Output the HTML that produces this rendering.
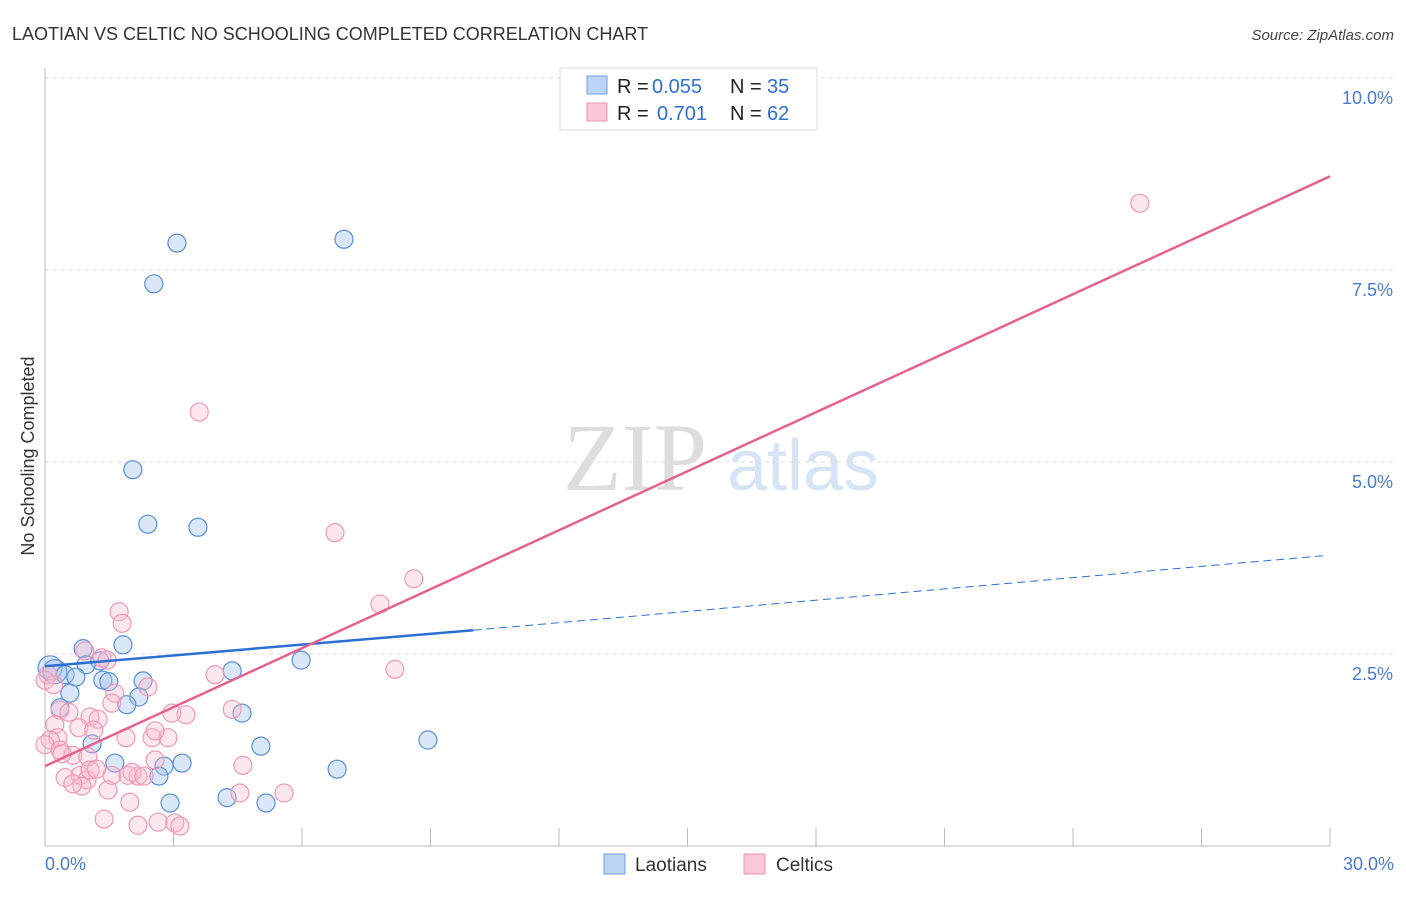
<!DOCTYPE html><html><head><meta charset="utf-8"><style>
body{margin:0;background:#fff;font-family:"Liberation Sans",sans-serif}
</style></head><body>
<svg width="1406" height="892" xmlns="http://www.w3.org/2000/svg" font-family="Liberation Sans, sans-serif">
<text x="12" y="40" font-size="18" fill="#333">LAOTIAN VS CELTIC NO SCHOOLING COMPLETED CORRELATION CHART</text>
<text x="1394" y="40" font-size="15" fill="#444" text-anchor="end" font-style="italic">Source: ZipAtlas.com</text>
<text x="635" y="490" font-size="96" fill="#ddd" font-family="Liberation Serif, serif" text-anchor="middle">ZIP</text>
<text x="803" y="490" font-size="72" fill="#d6e4f5" text-anchor="middle">atlas</text>
<g id="grid"></g>
<line x1="45" y1="68" x2="45" y2="846" stroke="#bbb"/>
<line x1="45" y1="846" x2="1330" y2="846" stroke="#bbb"/>
<g id="ticks"></g>
<g id="pts"></g>
<g id="lines"></g>
<text transform="translate(34,456) rotate(-90)" font-size="18" fill="#333" text-anchor="middle">No Schooling Completed</text>
<text x="45" y="870" font-size="18" fill="#4a7bd0">0.0%</text>
<text x="1394" y="870" font-size="18" fill="#4a7bd0" text-anchor="end">30.0%</text>
<g>
<rect x="560" y="68" width="257" height="62" fill="#fff" stroke="#ddd"/>
<rect x="587" y="76" width="20" height="18" fill="#bcd4f5" stroke="#6f9ee0"/>
<rect x="587" y="103" width="20" height="18" fill="#fbc8d6" stroke="#ee8fab"/>
<text x="617" y="93" font-size="20" fill="#222">R =</text>
<text x="652" y="93" font-size="20" fill="#2f6fd6">0.055</text>
<text x="730" y="93" font-size="20" fill="#222">N =</text>
<text x="767" y="93" font-size="20" fill="#2f6fd6">35</text>
<text x="617" y="120" font-size="20" fill="#222">R =</text>
<text x="657" y="120" font-size="20" fill="#2f6fd6">0.701</text>
<text x="730" y="120" font-size="20" fill="#222">N =</text>
<text x="767" y="120" font-size="20" fill="#2f6fd6">62</text>
</g>
<g>
<rect x="604" y="854" width="21" height="20" fill="#bcd4f5" stroke="#6f9ee0"/>
<text x="635" y="871" font-size="19" fill="#333">Laotians</text>
<rect x="744" y="854" width="21" height="20" fill="#fbc8d6" stroke="#ee8fab"/>
<text x="776" y="871" font-size="19" fill="#333">Celtics</text>
</g>
</svg>
<script>
const yTicks=[2.5,5.0,7.5,10.0];
const xTicks=[3,6,9,12,15,18,21,24,27,30];
const laoX=[0.12,0.23,3.08,6.98,2.54,2.05,2.40,3.57,0.89,1.82,1.28,0.96,0.47,0.72,1.35,1.49,2.29,0.58,2.19,1.91,0.35,4.37,5.98,4.60,1.10,5.04,8.94,1.63,3.20,2.78,2.66,6.82,2.92,4.25,5.16];
const laoY=[2.32,2.27,7.85,7.90,7.32,4.90,4.19,4.15,2.57,2.62,2.41,2.36,2.23,2.20,2.16,2.14,2.15,1.99,1.94,1.84,1.80,2.28,2.42,1.73,1.33,1.30,1.38,1.08,1.08,1.04,0.91,1.00,0.56,0.63,0.56];
const celX=[25.56,3.60,6.77,8.61,7.82,1.73,1.80,8.17,3.97,0.93,1.33,1.45,0.07,0.00,0.35,0.56,2.40,1.63,4.37,3.29,2.96,1.05,1.24,0.23,0.79,1.14,0.30,0.12,0.00,1.89,2.50,2.87,2.57,0.35,0.65,1.00,2.57,0.82,0.47,1.56,1.94,2.17,2.03,0.98,0.86,1.47,0.65,2.31,4.62,5.58,4.55,1.98,1.38,2.17,2.64,3.03,3.15,1.05,1.56,0.20,0.40,1.20];
const celY=[8.37,5.65,4.08,3.48,3.15,3.05,2.90,2.30,2.23,2.54,2.45,2.42,2.23,2.16,1.77,1.74,2.07,1.99,1.78,1.71,1.73,1.68,1.65,1.58,1.54,1.51,1.41,1.38,1.32,1.41,1.41,1.41,1.50,1.25,1.18,1.16,1.12,0.92,0.89,0.92,0.92,0.91,0.96,0.86,0.78,0.73,0.81,0.91,1.05,0.69,0.69,0.57,0.35,0.27,0.31,0.30,0.26,0.99,1.86,2.10,1.20,1.00];
const laoFit=[2.34,2.81,3.78]; // at x=0,10,29.85
const celFit=[1.04,8.72]; // at x=0,30
const X=v=>45+v/30*1285, Y=v=>846-v/10*768;
const NS='http://www.w3.org/2000/svg';
function mk(p,t,a){const e=document.createElementNS(NS,t);for(const k in a)e.setAttribute(k,a[k]);document.getElementById(p).appendChild(e);return e;}
yTicks.forEach(t=>{
 const g=mk('grid','line',{x1:45,x2:1394,y1:Y(t),y2:Y(t),stroke:'#ddd','stroke-dasharray':'4,4'});
 
 
 const l=mk('grid','text',{x:1393,y:Y(t)+26,'font-size':18,fill:'#4a7bd0','text-anchor':'end'});
 l.textContent=t.toFixed(1)+'%';
 
 
});
xTicks.forEach(t=>{
 const e=mk('ticks','line',{x1:X(t),x2:X(t),y1:828,y2:846,stroke:'#bbb'});
 
 
});
laoX.forEach((v,i)=>{
 const c=mk('pts','circle',{cx:X(v),cy:Y(laoY[i]),r:i<2?12:9,fill:'rgba(160,196,240,0.4)',stroke:'#5b8fd8','stroke-width':1.2});
 
 
});
celX.forEach((v,i)=>{
 const c=mk('pts','circle',{cx:X(v),cy:Y(celY[i]),r:9,fill:'rgba(248,185,205,0.35)',stroke:'#ee9ab4','stroke-width':1.2});
 
 
});
let a=mk('lines','line',{x1:X(0),y1:Y(laoFit[0]),x2:X(10),y2:Y(laoFit[1]),stroke:'#2a6fd4','stroke-width':2.5});


let b=mk('lines','line',{x1:X(10),y1:Y(laoFit[1]),x2:X(29.85),y2:Y(laoFit[2]),stroke:'#2a6fd4','stroke-width':1,'stroke-dasharray':'8,5'});


let c=mk('lines','line',{x1:X(0),y1:Y(celFit[0]),x2:X(30),y2:Y(celFit[1]),stroke:'#e5628f','stroke-width':2.5});


</script>
</body></html>
